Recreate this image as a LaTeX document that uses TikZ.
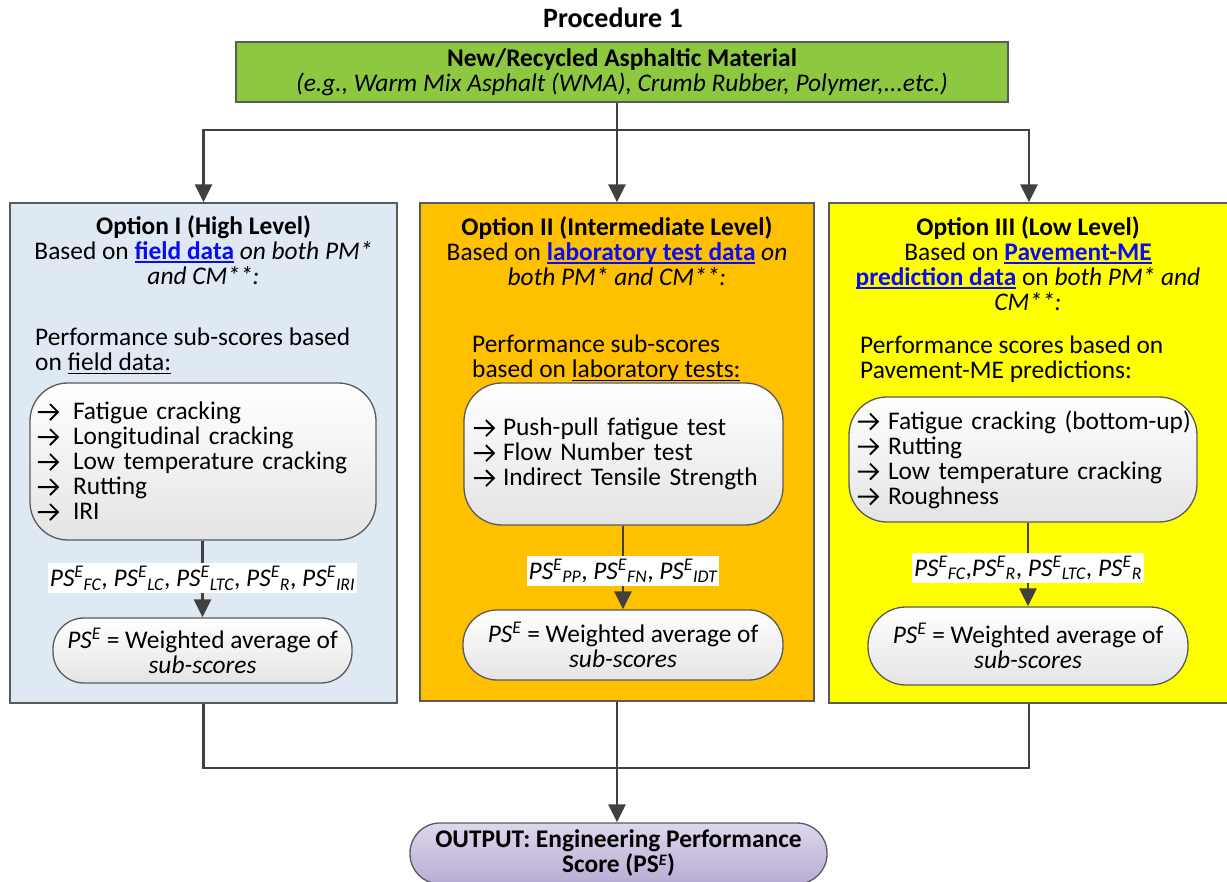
\documentclass[tikz,border=0pt]{standalone}
\usepackage{fontspec}
\setmainfont{Carlito}
\usetikzlibrary{arrows.meta}

\definecolor{flowgray}{RGB}{64,64,64}
\definecolor{boxline}{RGB}{90,90,90}
\definecolor{matgreen}{RGB}{141,200,64}
\definecolor{optblue}{RGB}{222,233,243}
\definecolor{optorange}{RGB}{255,192,0}
\definecolor{optyellow}{RGB}{255,255,0}
\definecolor{pillgray}{RGB}{228,228,228}
\definecolor{linkblue}{RGB}{10,10,245}
\definecolor{outtop}{RGB}{222,215,236}
\definecolor{outbot}{RGB}{185,172,212}

\newcommand\bodyfont{\fontsize{25.4}{25}\selectfont}
\newcommand\pse[1]{\textit{PS\textsuperscript{E}\textsubscript{#1}}}
% underline set close to the baseline
\newsavebox\ulbox
\newcommand\ul[1]{\sbox\ulbox{#1}\rlap{\vrule height -2pt depth 3.6pt width \wd\ulbox}\usebox\ulbox}
\newcommand\lnk[1]{\textcolor{linkblue}{\ul{\textbf{#1}}}}
% list bullet: a thin open arrow
\newcommand\itm[1][36pt]{\makebox[#1][l]{\tikz[x=1pt,y=1pt,baseline=0pt,sharp corners]
  \draw[black, line width=1.8pt, sharp corners, line cap=butt, line join=miter]
    (0,7.5) -- (20,7.5) (12,-0.5) -- (20,7.5) -- (12,15.5);}}

\tikzset{
  every node/.style={font=\bodyfont, inner sep=0pt},
  optbox/.style={draw=boxline, line width=1.3pt},
  listbox/.style={draw=boxline, line width=1.3pt, rounded corners=38pt,
    top color=white, bottom color=pillgray, align=left},
  pill/.style={draw=boxline, line width=1.3pt, rounded corners=31pt,
    top color=white, bottom color=pillgray, align=center},
  flow/.style={draw=flowgray, line width=2.6pt},
  arr/.style={flow, -{Triangle[width=17pt,length=18pt]}},
  tag/.style={fill=white, inner xsep=2pt, inner ysep=3pt}
}

\begin{document}
\begin{tikzpicture}[x=1pt, y=-1pt]
\useasboundingbox (0,0) rectangle (1227,882);

% title
\node (title) at (613,18) {\fontsize{28}{30}\selectfont\textbf{Procedure 1}};

% material box
\node[optbox, fill=matgreen, minimum width=772pt, minimum height=60pt, align=center]
  (mat) at (622,72)
  {\textbf{New/Recycled Asphaltic Material}\\
   \textit{(e.g., Warm Mix Asphalt (WMA), Crumb Rubber, Polymer,...etc.)}};

% option boxes
\node[optbox, fill=optblue, minimum width=387pt, minimum height=500pt] (opt1) at (203.5,453) {};
\node[optbox, fill=optorange, minimum width=394pt, minimum height=498pt] (opt2) at (617,452) {};
\node[optbox, fill=optyellow, minimum width=400pt, minimum height=500pt] (opt3) at (1029,453) {};

% split from material box to options
\coordinate (split) at (617,130);
\draw[flow] (mat.south -| split) -- (split);
\draw[arr] (split) -| (opt1.north);
\draw[arr] (split) -- (opt2.north);
\draw[arr] (split) -| (opt3.north);

% ---- Option I ----
\node[align=center] (h1) at (203.5,250)
  {\textbf{Option I (High Level)}\\
   Based on \lnk{field data} \textit{on both PM*}\\
   \textit{and CM**:}};
\node[align=left, anchor=west] (p1) at (35,351)
  {Performance sub-scores based\\on \ul{field data:}};
\node[listbox, inner xsep=7pt, text width=332pt, minimum height=157pt] (list1) at (203,461.5)
  {\itm Fatigue cracking\\
   \itm Longitudinal cracking\\
   \itm Low temperature cracking\\
   \itm Rutting\\
   \itm IRI};
\node[pill, minimum width=299pt, minimum height=65pt] (ps1) at (202.5,650.5)
  {\textit{PS\textsuperscript{E}} = Weighted average of\\ \textit{sub-scores}};
\draw[arr] (list1.south -| ps1.north) -- node[tag, pos=0.49]
  {\pse{FC}, \pse{LC}, \pse{LTC}, \pse{R}, \pse{IRI}} (ps1.north);

% ---- Option II ----
\node[align=center] (h2) at (617,251)
  {\textbf{Option II (Intermediate Level)}\\
   Based on \lnk{laboratory test data} \textit{on}\\
   \textit{both PM* and CM**:}};
\node[align=left, anchor=west] (p2) at (472,358.5)
  {Performance sub-scores\\based on \ul{laboratory tests:}};
\node[listbox, inner xsep=9pt, text width=301pt, minimum height=142pt] (list2) at (623.5,454)
  {\itm[30pt]Push-pull fatigue test\\
   \itm[30pt]Flow Number test\\
   \itm[30pt]Indirect Tensile Strength};
\node[pill, minimum width=320pt, minimum height=70pt, rounded corners=34pt] (ps2) at (623,645)
  {\textit{PS\textsuperscript{E}} = Weighted average of\\ \textit{sub-scores}};
\draw[arr] (list2.south -| ps2.north) -- node[tag, pos=0.54]
  {\pse{PP}, \pse{FN}, \pse{IDT}} (ps2.north);

% ---- Option III ----
\node[align=center] (h3) at (1028,263.5)
  {\textbf{Option III (Low Level)}\\
   Based on \lnk{Pavement-ME}\\
   \lnk{prediction data} on \textit{both PM* and}\\
   \textit{CM**:}};
\node[align=left, anchor=west] (p3) at (860,359.5)
  {Performance scores based on\\Pavement-ME predictions:};
\node[listbox, inner xsep=8pt, text width=332pt, minimum height=125pt] (list3) at (1023,459.5)
  {\itm[31pt]\mbox{Fatigue cracking (bottom-up)}\\
   \itm[31pt]Rutting\\
   \itm[31pt]Low temperature cracking\\
   \itm[31pt]Roughness};
\node[pill, minimum width=320pt, minimum height=78pt, rounded corners=38pt] (ps3) at (1028,646)
  {\textit{PS\textsuperscript{E}} = Weighted average of\\ \textit{sub-scores}};
\draw[arr] (list3.south -| ps3.north) -- node[tag, pos=0.54]
  {\pse{FC},\pse{R}, \pse{LTC}, \pse{R}} (ps3.north);

% ---- output ----
\node[draw=boxline, line width=1.3pt, rounded corners=30pt, top color=outtop,
  bottom color=outbot, minimum width=417pt, minimum height=61pt, align=center]
  (out) at (618.5,853.5)
  {\textbf{OUTPUT: Engineering Performance}\\
   \textbf{Score (PS\raisebox{0.3em}{\fontsize{16}{16}\selectfont\textit{E}})}};

\coordinate (join) at (617,768);
\draw[flow] (opt1.south) |- (join);
\draw[flow] (opt3.south) |- (join);
\draw[arr] (opt2.south) -- (opt2.south |- out.north);
\end{tikzpicture}
\end{document}
